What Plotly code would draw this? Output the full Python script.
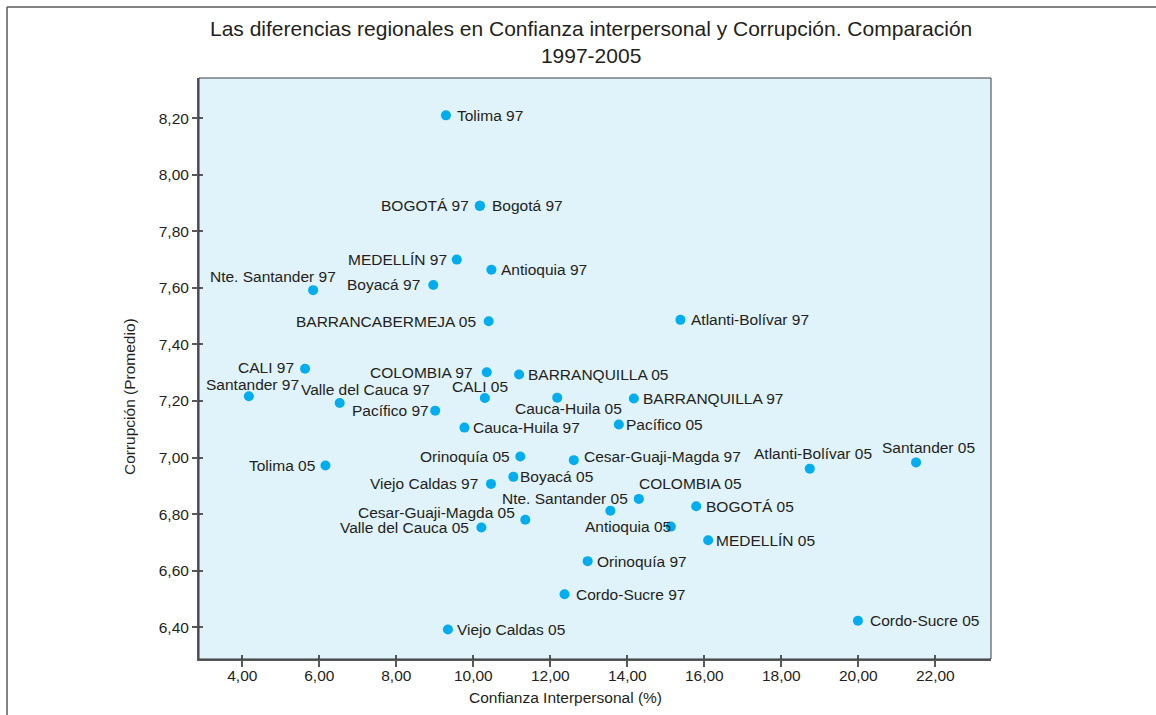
import plotly.graph_objects as go

# Regional values: interpersonal trust (%) vs. average corruption score
regiones = [
    "Tolima 97", "BOGOTÁ 97", "Bogotá 97", "MEDELLÍN 97", "Antioquia 97",
    "Nte. Santander 97", "Boyacá 97", "BARRANCABERMEJA 05", "Atlanti-Bolívar 97",
    "CALI 97", "COLOMBIA 97", "BARRANQUILLA 05", "Santander 97",
    "Valle del Cauca 97", "CALI 05", "Cauca-Huila 05", "BARRANQUILLA 97",
    "Pacífico 97", "Pacífico 05", "Cauca-Huila 97", "Orinoquía 05",
    "Cesar-Guaji-Magda 97", "Atlanti-Bolívar 05", "Santander 05", "Tolima 05",
    "Boyacá 05", "Viejo Caldas 97", "COLOMBIA 05", "Nte. Santander 05",
    "BOGOTÁ 05", "Cesar-Guaji-Magda 05", "Valle del Cauca 05", "Antioquia 05",
    "MEDELLÍN 05", "Orinoquía 97", "Cordo-Sucre 97", "Cordo-Sucre 05",
    "Viejo Caldas 05",
]
confianza = [
    9.29, 10.17, 10.17, 9.57, 10.47,
    5.84, 8.96, 10.40, 15.38,
    5.63, 10.35, 11.19, 4.17,
    6.53, 10.30, 12.18, 14.17,
    9.01, 13.78, 9.77, 11.22,
    12.61, 18.74, 21.50, 6.16,
    11.04, 10.46, 14.30, 13.56,
    15.79, 11.35, 10.21, 15.13,
    16.10, 12.97, 12.37, 19.99,
    9.34,
]
corrupcion = [
    8.21, 7.89, 7.89, 7.70, 7.664,
    7.592, 7.61, 7.482, 7.487,
    7.314, 7.302, 7.294, 7.217,
    7.193, 7.211, 7.212, 7.209,
    7.166, 7.117, 7.106, 7.004,
    6.991, 6.961, 6.983, 6.972,
    6.932, 6.907, 6.854, 6.812,
    6.828, 6.780, 6.753, 6.756,
    6.708, 6.634, 6.517, 6.423,
    6.392,
]
x_ticks = [4, 6, 8, 10, 12, 14, 16, 18, 20, 22]
y_ticks = [6.4, 6.6, 6.8, 7.0, 7.2, 7.4, 7.6, 7.8, 8.0, 8.2]

# Label placement: (anchor, x offset px, y offset px; positive y is up)
placement = {
    "Tolima 97": ("left", 9, 0),
    "BOGOTÁ 97": ("right", -9, 0),
    "Bogotá 97": ("left", 10, 0),
    "MEDELLÍN 97": ("right", -8, 0),
    "Antioquia 97": ("left", 8, 0),
    "Nte. Santander 97": ("right", 25, 14),
    "Boyacá 97": ("right", -11, 1),
    "BARRANCABERMEJA 05": ("right", -11, 0),
    "Atlanti-Bolívar 97": ("left", 9, 0),
    "CALI 97": ("right", -9, 1),
    "COLOMBIA 97": ("right", -12, 0),
    "BARRANQUILLA 05": ("left", 7, 0),
    "Santander 97": ("center", 4, 12),
    "Valle del Cauca 97": ("center", 26, 14),
    "CALI 05": ("center", -5, 11),
    "Cauca-Huila 05": ("center", 11, -11),
    "BARRANQUILLA 97": ("left", 7, 0),
    "Pacífico 97": ("right", -4, 0),
    "Pacífico 05": ("left", 5, 0),
    "Cauca-Huila 97": ("left", 7, 0),
    "Orinoquía 05": ("right", -8, 0),
    "Cesar-Guaji-Magda 97": ("left", 8, 4),
    "Atlanti-Bolívar 05": ("center", 3, 15),
    "Santander 05": ("center", 12, 15),
    "Tolima 05": ("right", -8, 0),
    "Boyacá 05": ("left", 5, 0),
    "Viejo Caldas 97": ("right", -11, 0),
    "COLOMBIA 05": ("left", -2, 15),
    "Nte. Santander 05": ("right", 20, 12),
    "BOGOTÁ 05": ("left", 8, 0),
    "Cesar-Guaji-Magda 05": ("right", -8, 7),
    "Valle del Cauca 05": ("right", -10, 0),
    "Antioquia 05": ("right", 2, 0),
    "MEDELLÍN 05": ("left", 6, 0),
    "Orinoquía 97": ("left", 7, 0),
    "Cordo-Sucre 97": ("left", 9, 0),
    "Cordo-Sucre 05": ("left", 10, 0),
    "Viejo Caldas 05": ("left", 7, 0),
}

FONT = "Arial, Liberation Sans, sans-serif"
TEXT = "#231F20"
AXIS = "#58595B"
X_RANGE = [2.875, 23.447]
Y_RANGE = [6.288, 8.342]

fig = go.Figure()
fig.add_trace(go.Scatter(
    x=confianza, y=corrupcion, mode="markers",
    marker=dict(size=10, color="#00AEEF", line=dict(width=0)),
    hovertext=regiones, hoverinfo="text", showlegend=False,
))

annotations = []
for name, xv, yv in zip(regiones, confianza, corrupcion):
    anchor, dx, dy = placement[name]
    annotations.append(dict(
        x=xv, y=yv, xref="x", yref="y", text=name, showarrow=False,
        xanchor=anchor, yanchor="middle", xshift=dx, yshift=dy,
        font=dict(family=FONT, size=15.5, color=TEXT),
    ))

# Title and axis titles
annotations.append(dict(
    x=0.495, y=1.062, xref="paper", yref="paper", showarrow=False,
    text="Las diferencias regionales en Confianza interpersonal y Corrupción. Comparación<br>1997-2005",
    xanchor="center", yanchor="middle",
    font=dict(family=FONT, size=21, color=TEXT),
))
annotations.append(dict(
    x=0.463, y=-0.067, xref="paper", yref="paper", showarrow=False,
    text="Confianza Interpersonal (%)", xanchor="center", yanchor="middle",
    font=dict(family=FONT, size=15.5, color=TEXT),
))
annotations.append(dict(
    x=-0.087, y=0.451, xref="paper", yref="paper", showarrow=False,
    text="Corrupción (Promedio)", textangle=-90, xanchor="center", yanchor="middle",
    font=dict(family=FONT, size=15.5, color=TEXT),
))

axis_common = dict(showgrid=False, zeroline=False, tickformat=".2f",
                   tickfont=dict(family=FONT, size=15.5, color=TEXT))

fig.update_layout(
    width=1156, height=715,
    margin=dict(l=199, r=165, t=78, b=56),
    paper_bgcolor="white", plot_bgcolor="#E0F2FA",
    separators=",.",
    xaxis=dict(range=X_RANGE, tickvals=x_ticks, ticks="outside", ticklen=6,
               tickwidth=1.5, tickcolor=AXIS, showline=True, linewidth=2,
               linecolor=AXIS, ticklabelstandoff=-5, **axis_common),
    yaxis=dict(range=Y_RANGE, tickvals=y_ticks, ticks="outside", ticklen=5,
               tickwidth=1.5, tickcolor=AXIS, showline=True, linewidth=2,
               linecolor=AXIS, **axis_common),
    # companion axes carry the inner half of each crossing tick
    xaxis2=dict(range=X_RANGE, tickvals=x_ticks, overlaying="x", anchor="y",
                side="bottom", ticks="inside", ticklen=4, tickwidth=1.5,
                tickcolor=AXIS, showticklabels=False, showgrid=False,
                zeroline=False, showline=False),
    yaxis2=dict(range=Y_RANGE, tickvals=y_ticks, overlaying="y", anchor="x",
                side="left", ticks="inside", ticklen=4, tickwidth=1.5,
                tickcolor=AXIS, showticklabels=False, showgrid=False,
                zeroline=False, showline=False),
    annotations=annotations,
    shapes=[
        # thin frame around the plotting area
        dict(type="rect", xref="paper", yref="paper", x0=0, y0=0, x1=1, y1=1,
             line=dict(color="#3C3C3C", width=1), layer="above"),
        # outer border of the figure (top and left edges)
        dict(type="line", xref="paper", yref="paper", x0=-0.2424, x1=1.3,
             y0=1.1222, y1=1.1222, line=dict(color="#5A5A5A", width=1.5)),
        dict(type="line", xref="paper", yref="paper", x0=-0.2424, x1=-0.2424,
             y0=1.1222, y1=-0.2, line=dict(color="#5A5A5A", width=1.5)),
    ],
)
# an invisible trace so the companion axes render
fig.add_trace(go.Scatter(x=[None], y=[None], xaxis="x2", yaxis="y2",
                         showlegend=False, hoverinfo="skip"))

fig.write_html("out.html")
